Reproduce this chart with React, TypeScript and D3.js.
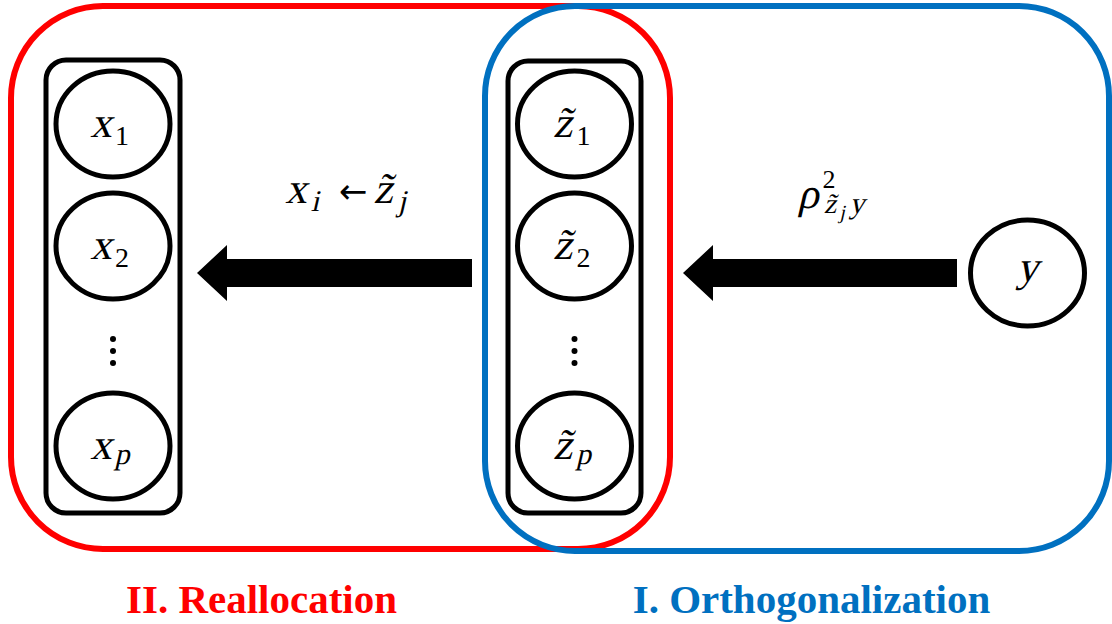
import React from "react";
import * as d3 from "d3";

// ---- data ----
const rowKeys = ["n1", "n2", "dots", "np"];
const rowCentres = [124, 246, 351, 446];
const leftBase = ["x", "x", "", "x"];
const leftSubs = ["1", "2", "", "p"];
const midBase = ["z̃", "z̃", "", "z̃"];
const midSubs = ["1", "2", "", "p"];
const subItalic = [false, false, false, true];
const groupLabels = ["II. Reallocation", "I. Orthogonalization"];
const groupColors = ["#FF0000", "#0070C0"];

const W = 1112;
const H = 624;

const MATH = "'Liberation Serif', 'Times New Roman', serif";

function Ital({ x, y, size, anchor = "middle", children }: any) {
  return (
    <g transform={`translate(${x},${y}) skewX(-13)`}>
      <text x={0} y={0} textAnchor={anchor} fontFamily={MATH} fontSize={size}>
        {children}
      </text>
    </g>
  );
}

function Up({ x, y, size, anchor = "middle", family = MATH, children }: any) {
  return (
    <text x={x} y={y} textAnchor={anchor} fontFamily={family} fontSize={size}>
      {children}
    </text>
  );
}

function Node({ cx, cy, base, sub, subIt }: any) {
  const hasSub = sub !== "";
  return (
    <g>
      <ellipse cx={cx} cy={cy} rx={57} ry={53} fill="#fff" stroke="#000" strokeWidth={5} />
      <Ital x={hasSub ? cx - 12 : cx} y={cy + (hasSub ? 13 : 8)} size={43}>
        {base}
      </Ital>
      {hasSub &&
        (subIt ? (
          <Ital x={cx + 9} y={cy + 18} size={30}>{sub}</Ital>
        ) : (
          <Up x={cx + 9} y={cy + 21} size={28}>{sub}</Up>
        ))}
    </g>
  );
}

function Dots({ cx, cy }: any) {
  return (
    <g>
      {[-12, 0, 12].map((d) => (
        <circle key={d} cx={cx} cy={cy + d} r={3} fill="#000" />
      ))}
    </g>
  );
}

function Arrow({ tip, end, cy }: any) {
  const p = d3.path();
  p.moveTo(tip, cy);
  p.lineTo(tip + 30, cy - 28);
  p.lineTo(tip + 30, cy - 14);
  p.lineTo(end, cy - 14);
  p.lineTo(end, cy + 14);
  p.lineTo(tip + 30, cy + 14);
  p.lineTo(tip + 30, cy + 28);
  p.closePath();
  return <path d={p.toString()} fill="#000" />;
}

export default function App() {
  const y = d3.scaleOrdinal<string, number>().domain(rowKeys).range(rowCentres);
  const leftX = 113;
  const midX = 574.5;
  return (
    <svg width={W} height={H} style={{ position: "absolute", left: 0, top: 0, background: "#fff" }}>
      {/* group outlines */}
      <rect x={11} y={6} width={659} height={543} rx={92} ry={92} fill="none" stroke={groupColors[0]} strokeWidth={6} />
      <rect x={485} y={6} width={624} height={545} rx={90} ry={90} fill="none" stroke={groupColors[1]} strokeWidth={6} />

      {/* inner boxes */}
      <rect x={46} y={60} width={134} height={453} rx={20} ry={20} fill="none" stroke="#000" strokeWidth={5} />
      <rect x={508} y={61} width={133} height={452} rx={20} ry={20} fill="none" stroke="#000" strokeWidth={5} />

      {rowKeys.map((k, i) =>
        k === "dots" ? (
          <g key={k}>
            <Dots cx={leftX} cy={y(k)} />
            <Dots cx={midX} cy={y(k)} />
          </g>
        ) : (
          <g key={k}>
            <Node cx={leftX} cy={y(k)} base={leftBase[i]} sub={leftSubs[i]} subIt={subItalic[i]} />
            <Node cx={midX} cy={y(k)} base={midBase[i]} sub={midSubs[i]} subIt={subItalic[i]} />
          </g>
        )
      )}

      <Node cx={1027.5} cy={273} base="y" sub="" subIt={false} />

      <Arrow tip={197} end={472} cy={273} />
      <Arrow tip={683} end={957} cy={273} />

      {/* arrow label: x_i ← z̃_j */}
      <Ital x={296} y={203} size={43}>x</Ital>
      <Ital x={315} y={211} size={30}>i</Ital>
      <Up x={353} y={203} size={34} family="'DejaVu Sans', sans-serif">←</Up>
      <Ital x={383} y={203} size={43}>z̃</Ital>
      <Ital x={402} y={211} size={30}>j</Ital>

      {/* arrow label: rho^2_{z̃_j y} */}
      <Ital x={808} y={208} size={43}>ρ</Ital>
      <Up x={829} y={188} size={26}>2</Up>
      <Ital x={830} y={213} size={28}>z̃</Ital>
      <Ital x={842} y={219} size={20}>j</Ital>
      <Ital x={857} y={213} size={30}>y</Ital>

      {/* group labels */}
      <text x={261.5} y={613} textAnchor="middle" fontFamily="'Liberation Serif', serif" fontWeight="bold" fontSize={41} fill={groupColors[0]}>
        {groupLabels[0]}
      </text>
      <text x={811.5} y={613} textAnchor="middle" fontFamily="'Liberation Serif', serif" fontWeight="bold" fontSize={41} fill={groupColors[1]}>
        {groupLabels[1]}
      </text>
    </svg>
  );
}
